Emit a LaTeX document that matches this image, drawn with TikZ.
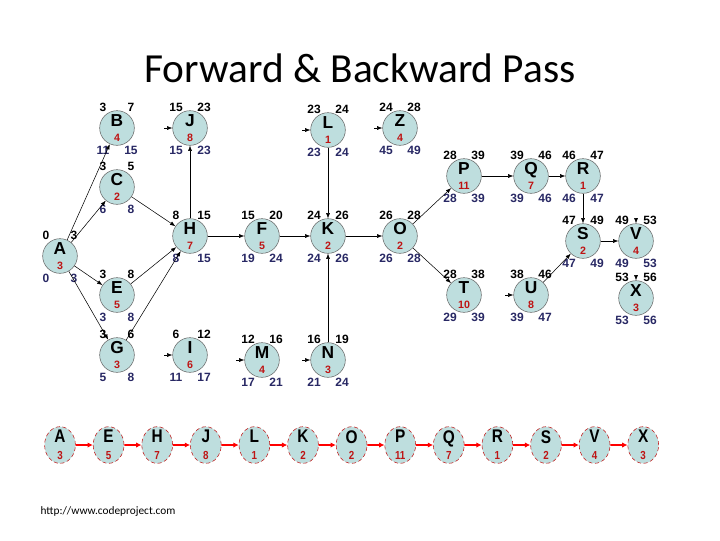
\documentclass[tikz,border=0pt]{standalone}
\usepackage{fontspec}
\setmainfont{Liberation Sans}
\newfontfamily\calib{Carlito}
\usetikzlibrary{arrows.meta}
\definecolor{nfill}{RGB}{190,222,222}
\definecolor{nblue}{RGB}{40,40,100}
\definecolor{dred}{RGB}{190,20,20}
\begin{document}
\begin{tikzpicture}[x=0.75pt,y=-0.75pt,
 act/.style={circle,draw=black!60,fill=nfill,minimum size=26pt,inner sep=0pt,font=\bfseries\fontsize{13}{13}\selectfont,align=center},
 num/.style={font=\bfseries\fontsize{9}{9}\selectfont,inner sep=0pt},
 conn/.style={-{Latex[length=4pt,width=3pt]},black,thin},
 seq/.style={circle,draw=dred,densely dashed,fill=nfill,minimum width=22pt,inner sep=0pt,align=center,xscale=1.05,yscale=1.25,font=\bfseries\fontsize{11}{11}\selectfont},
 rconn/.style={-{Latex[length=4pt,width=4pt]},red,line width=1.2pt}]
\useasboundingbox (0,0) rectangle (720,540);
\node[font=\calib\fontsize{31}{33}\selectfont] (title) at (360,68) {Forward \& Backward Pass};
\node[font=\calib\fontsize{8.5}{9}\selectfont] (foot) at (108,512) {http://www.codeproject.com};
\newcommand{\act}[8]{%
 \node[act] (#1) at (#2,#3) {#1\\[-2pt]{\color{dred}\fontsize{8}{8}\selectfont #4}};
 \node[num] (#1es) at (#2-14,#3-21) {#5};
 \node[num] (#1ef) at (#2+14,#3-21) {#6};
 \node[num,nblue] (#1ls) at (#2-14,#3+22) {#7};
 \node[num,nblue] (#1lf) at (#2+14,#3+22) {#8};}
\act{A}{60}{256}{3}{0}{3}{0}{3}
\act{B}{117}{128}{4}{3}{7}{11}{15}
\act{C}{117}{187}{2}{3}{5}{6}{8}
\act{E}{117}{295}{5}{3}{8}{3}{8}
\act{G}{117}{355}{3}{3}{6}{5}{8}
\act{H}{190}{236}{7}{8}{15}{8}{15}
\act{J}{190}{128}{8}{15}{23}{15}{23}
\act{I}{190}{355}{6}{6}{12}{11}{17}
\act{F}{262}{236}{5}{15}{20}{19}{24}
\act{M}{262}{360}{4}{12}{16}{17}{21}
\act{K}{328}{236}{2}{24}{26}{24}{26}
\act{L}{328}{130}{1}{23}{24}{23}{24}
\act{N}{328}{360}{3}{16}{19}{21}{24}
\act{Z}{400}{128}{4}{24}{28}{45}{49}
\act{O}{400}{236}{2}{26}{28}{26}{28}
\act{P}{464}{176}{11}{28}{39}{28}{39}
\act{Q}{531}{176}{7}{39}{46}{39}{46}
\act{R}{583}{176}{1}{46}{47}{46}{47}
\act{S}{583}{241}{2}{47}{49}{47}{49}
\act{V}{636}{241}{4}{49}{53}{49}{53}
\act{T}{464}{295}{10}{28}{38}{29}{39}
\act{U}{531}{295}{8}{38}{46}{39}{47}
\act{X}{636}{298}{3}{53}{56}{53}{56}
\foreach \a/\b in {A/B,A/C,A/E,A/G,C/H,E/H,G/H,H/J,H/F,F/K,L/K,N/K,K/O,O/P,O/T,P/Q,Q/R,R/S,U/S,S/V}
 \draw[conn] (\a) -- (\b);
\foreach \n in {J,L,Z,I,M,N,U}{
 \coordinate (\n stub) at ([xshift=-6pt]\n.west);
 \draw[conn] (\n stub) -- (\n.west);}
\foreach \n in {V,X}{
 \coordinate (\n stub) at ([yshift=4pt]\n.north);
 \draw[conn] (\n stub) -- (\n.north);}
\foreach \n/\d [count=\i from 0] in {A/3,E/5,H/7,J/8,L/1,K/2,O/2,P/11,Q/7,R/1,S/2,V/4,X/3}
 \node[seq] (s\i) at (60+48.6*\i,445) {\n\\[-1pt]{\color{dred}\fontsize{7}{7}\selectfont \d}};
\foreach \i [evaluate=\i as \j using int(\i+1)] in {0,...,11}
 \draw[rconn] (s\i) -- (s\j);
\end{tikzpicture}
\end{document}
